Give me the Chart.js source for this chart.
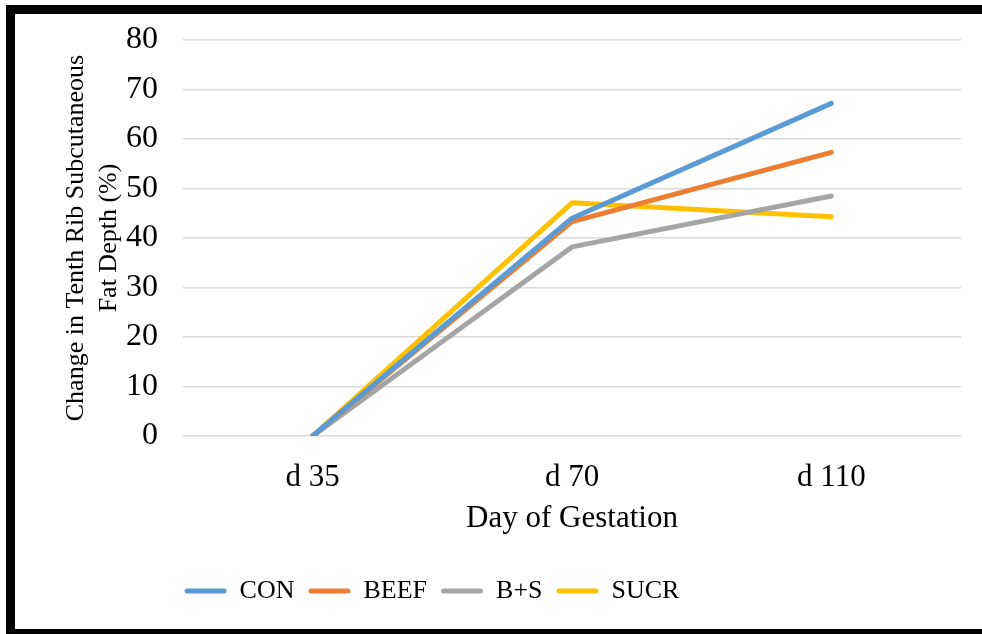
<!DOCTYPE html>
<html>
<head>
<meta charset="utf-8">
<script src="https://cdn.jsdelivr.net/npm/chart.js@4"></script>
<style>
  html, body { margin: 0; padding: 0; background: #fff; overflow: hidden; }
  #frame {
    position: absolute; left: 6px; top: 5px;
    width: 967px; height: 615px;
    border-left: 9px solid #000; border-top: 9px solid #000; border-bottom: 9px solid #000;
    background: #fff;
  }
  #chart { display: block; }
</style>
</head>
<body>
<div id="frame"><canvas id="chart" width="967" height="615"></canvas></div>
<script>
// Data
const days = ['d 35', 'd 70', 'd 110'];
const conValues = [0, 44.0, 67.2];
const beefValues = [0, 43.3, 57.3];
const bsValues = [0, 38.2, 48.5];
const sucrValues = [0, 47.1, 44.3];
const yTicks = [0, 10, 20, 30, 40, 50, 60, 70, 80];

const serif = '"Liberation Serif", "Times New Roman", serif';

function series(label, data, color) {
    return {
        label: label,
        data: data,
        borderColor: color,
        backgroundColor: color,
        borderWidth: 5,
        borderCapStyle: 'round',
        borderJoinStyle: 'round',
        pointRadius: 0,
        tension: 0
    };
}

// move the legend left so it sits where the original one does
const shiftLegend = {
    id: 'shiftLegend',
    afterLayout(chart) {
        chart.legend.left -= 56;
        chart.legend.right -= 56;
    }
};

new Chart(document.getElementById('chart').getContext('2d'), {
    type: 'line',
    data: {
        labels: days,
        datasets: [
            series('CON', conValues, '#5B9BD5'),
            series('BEEF', beefValues, '#ED7D31'),
            series('B+S', bsValues, '#A5A5A5'),
            series('SUCR', sucrValues, '#FFC000')
        ]
    },
    options: {
        responsive: false,
        animation: false,
        layout: { padding: { top: 26, right: 21, bottom: 15, left: 0 } },
        plugins: {
            legend: {
                position: 'bottom',
                labels: {
                    boxWidth: 42,
                    boxHeight: 5,
                    padding: 14,
                    color: '#000',
                    font: { family: serif, size: 26 },
                    generateLabels: (chart) =>
                        Chart.defaults.plugins.legend.labels.generateLabels(chart).map(l => ({
                            ...l, lineWidth: 0, borderRadius: 2.5
                        }))
                }
            },
            tooltip: { enabled: false }
        },
        scales: {
            x: {
                offset: true,
                grid: { display: false },
                border: { display: false },
                ticks: { color: '#000', padding: 15, font: { family: serif, size: 31 } },
                title: {
                    display: true,
                    text: 'Day of Gestation',
                    color: '#000',
                    padding: { top: 0, bottom: 27 },
                    font: { family: serif, size: 31 }
                },
                afterFit: (scale) => { scale.height = 128; }
            },
            y: {
                min: 0,
                max: 80,
                afterBuildTicks: (scale) => { scale.ticks = yTicks.map(v => ({ value: v })); },
                grid: { color: '#D9D9D9', lineWidth: 1.5, drawTicks: false },
                border: { display: false },
                ticks: { color: '#000', padding: 25, font: { family: serif, size: 32 } },
                title: {
                    display: true,
                    text: ['Change in Tenth Rib Subcutaneous', 'Fat Depth (%)'],
                    color: '#000',
                    padding: { top: 45, bottom: 0 },
                    font: { family: serif, size: 26, lineHeight: 1.27 }
                },
                afterFit: (scale) => {
                    scale.width = 168;
                    // keep the plot top fixed by the layout padding only
                    scale.paddingTop = 0;
                    scale.paddingBottom = 0;
                }
            }
        }
    },
    plugins: [shiftLegend]
});
</script>
</body>
</html>
